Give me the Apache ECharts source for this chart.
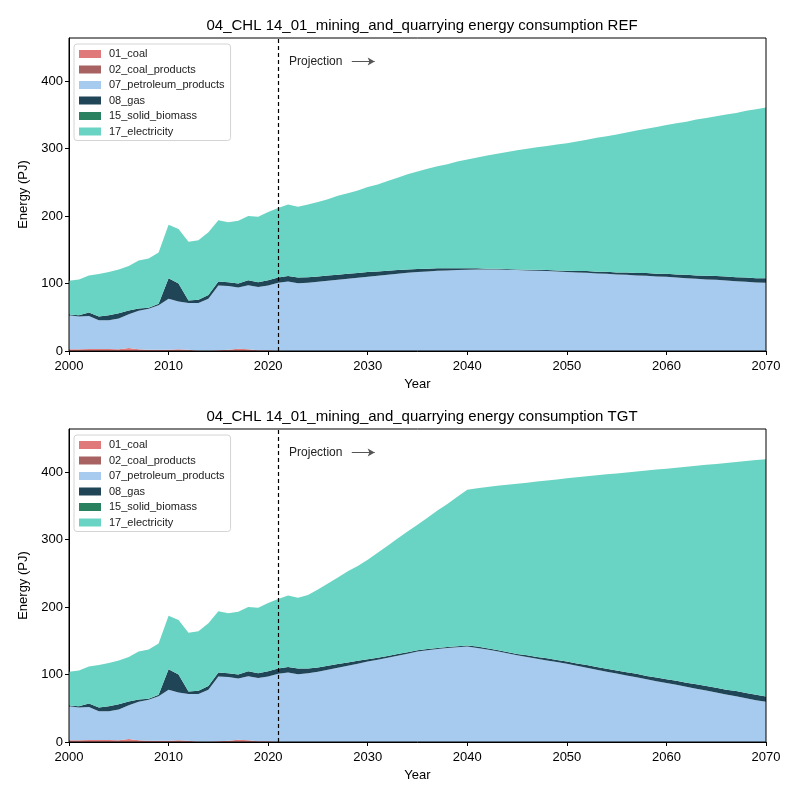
<!DOCTYPE html>
<html>
<head>
<meta charset="utf-8">
<title>04_CHL mining and quarrying energy consumption</title>
<script src="https://cdn.jsdelivr.net/npm/echarts@6/dist/echarts.min.js"></script>
<style>
  html, body { margin: 0; padding: 0; background: #fff; }
  #main { width: 800px; height: 800px; }
</style>
</head>
<body>
<div id="main"></div>
<script>
// years 2000..2070, history 2000-2023 is the same in both scenarios
var years = [];
for (var y = 2000; y <= 2070; y++) years.push(String(y));

var fuels = ['01_coal', '02_coal_products', '07_petroleum_products', '08_gas', '15_solid_biomass', '17_electricity'];
var colors = ['#e07a7a', '#a86262', '#a6cbee', '#1f4557', '#2a8160', '#6ad4c4'];

// history 2000-2023
var coalHist = [2.5, 2.5, 3, 3, 3, 2.5, 4.5, 2.5, 2, 2, 2, 2.5, 2, 0.5, 0.5, 1, 2, 3.5, 2.5, 1, 1, 0.5, 0, 0];
var petHist = [50.5, 48.5, 49, 42.5, 42.5, 45.5, 50, 57, 60.5, 66, 75.5, 71, 69, 70.5, 77, 96, 94.5, 90.5, 95, 94, 96, 100.5, 103, 100.5];
var gasHist = [1, 2, 5, 5.5, 7.5, 8, 5.5, 3.5, 1.5, 2, 30.5, 26.5, 4, 5, 5.5, 6, 5.5, 6, 7.5, 7, 8, 8, 8, 8.5];
var elecHist = [50, 53, 55, 63, 64, 65, 66, 71, 73, 76, 79, 81, 87, 88, 93, 91, 89, 93, 95, 97, 101, 103, 106, 105];

// REF projection 2024-2070
var petRef = [101, 102.5, 104, 105.5, 107, 108.5, 110, 111.5, 113, 114.5, 116, 117, 118, 119, 119.5, 120, 120.5,
  121, 121, 121, 120.5, 120, 119.5, 119, 118.5, 118, 117, 116.5, 116, 115, 114.5, 113.5, 113, 112, 111.5, 110.5, 110,
  109, 108, 107, 106, 105.5, 104.5, 103.5, 102.5, 101.5, 101];
var gasRef = [8.5, 8, 8, 7.5, 7.5, 7, 7, 6.5, 6, 5.5, 5, 4.5, 4, 3.5, 3, 2.5, 2,
  1.5, 1, 1, 1, 1, 1, 1.5, 1.5, 1.5, 2, 2, 2.5, 2.5, 3, 3, 3.5, 3.5, 4, 4, 4.5,
  4.5, 5, 5, 5.5, 5.5, 6, 6, 6.5, 6.5, 7];
var elecRef = [107.5, 110.5, 113, 117, 119.5, 122.5, 126, 129, 133, 137, 141, 144.5, 148, 151.5, 154.5, 158.5, 161.5,
  164.5, 168, 170.5, 173.5, 176.5, 179.5, 181.5, 184, 186.5, 189, 192, 194.5, 198.5, 201, 204.5, 207.5, 211.5, 214, 217.5, 220.5,
  224, 227, 231, 234, 237, 240, 243.5, 247, 250.5, 253];

// TGT projection 2024-2070
var petTgt = [102, 104, 107, 110, 113, 116, 119.5, 122, 125, 128, 131, 134, 136, 138, 139.5, 140.5, 141.5,
  139.5, 137, 134.5, 131.5, 128.5, 126, 123.5, 121, 118.5, 116, 113, 110, 107, 104, 101.5, 98.5, 96, 93, 90, 87.5,
  84.7, 82, 79, 76.5, 73.5, 70.5, 68, 65, 62, 59.5];
var gasTgt = [7, 6.5, 6, 5.5, 5, 4.5, 3, 3, 2.5, 2.5, 2, 2, 2, 1.5, 1.5, 1.5, 1.5,
  2, 2, 2, 2, 2, 2.5, 2.5, 3, 3, 3.5, 3.5, 4, 4, 4.5, 4.5, 5, 5, 5, 5.5, 5.5,
  6, 6, 6.5, 6.5, 7, 7, 7.5, 7.5, 8, 8];
var elecTgt = [109, 115.5, 122, 128.5, 135, 140.5, 147.5, 155.5, 163.5, 171, 179, 186, 194.5, 203.5, 212, 221.5, 231,
  234.5, 239, 243.5, 248, 252.5, 256, 260, 263.5, 267.5, 271.5, 276, 280, 284.5, 288.5, 292, 296, 300, 304.5, 308.5, 312,
  315.8, 320, 324, 328, 331.5, 336, 339.5, 344, 348, 351.5];

// no coal in the projection years
var coalAll = coalHist.concat(years.slice(coalHist.length).map(function () { return 0; }));

var projectionYear = 2021;
var titles = ['04_CHL 14_01_mining_and_quarrying energy consumption REF',
              '04_CHL 14_01_mining_and_quarrying energy consumption TGT'];

var FONT = 'Liberation Sans, Arial, sans-serif';
var chart = echarts.init(document.getElementById('main'));

var grids = [], xAxes = [], yAxes = [], series = [], legends = [], titleOpts = [];
var scen = [
  { pet: petHist.concat(petRef), gas: gasHist.concat(gasRef), elec: elecHist.concat(elecRef), top: 38 },
  { pet: petHist.concat(petTgt), gas: gasHist.concat(gasTgt), elec: elecHist.concat(elecTgt), top: 429 }
];

scen.forEach(function (s, k) {
  grids.push({ left: 69, right: 34, top: s.top, height: 313, show: true, z: 10,
    borderColor: '#000', borderWidth: 1, backgroundColor: 'transparent' });
  titleOpts.push({ text: titles[k], left: 417, top: s.top - 25, textAlign: 'center',
    textStyle: { fontFamily: FONT, fontSize: 15, fontWeight: 'normal', color: '#000' } });
  // category axis for the stacked areas
  xAxes.push({ type: 'category', gridIndex: k, data: years, boundaryGap: false,
    name: 'Year', nameLocation: 'middle', nameGap: 27,
    nameTextStyle: { fontFamily: FONT, fontSize: 13, color: '#000' },
    axisLine: { lineStyle: { color: '#000', width: 1 } },
    axisTick: { length: 4, interval: 9, lineStyle: { color: '#000' } },
    axisLabel: { fontFamily: FONT, fontSize: 13, color: '#000', margin: 9, interval: 9 },
    splitLine: { show: false } });
  // hidden value axis for the annotations
  xAxes.push({ type: 'value', gridIndex: k, min: 2000, max: 2070, show: false });
  yAxes.push({ type: 'value', gridIndex: k, min: 0, max: 464, interval: 100,
    name: 'Energy (PJ)', nameLocation: 'middle', nameGap: 38,
    nameTextStyle: { fontFamily: FONT, fontSize: 13, color: '#000' },
    axisLine: { show: true, lineStyle: { color: '#000', width: 1 } },
    axisTick: { show: true, length: 4, lineStyle: { color: '#000' },
      customValues: [0, 100, 200, 300, 400] },
    axisLabel: { fontFamily: FONT, fontSize: 13, color: '#000', margin: 6,
      customValues: [0, 100, 200, 300, 400] },
    splitLine: { show: false } });

  var dataSets = [coalAll, [], s.pet, s.gas, [], s.elec];
  fuels.forEach(function (name, i) {
    series.push({ name: name, type: 'line', xAxisIndex: 2 * k, yAxisIndex: k, stack: 'total' + k,
      data: dataSets[i], symbol: 'none', showSymbol: false, silent: true,
      lineStyle: { width: 0 }, areaStyle: { color: colors[i], opacity: 1 },
      itemStyle: { color: colors[i] }, emphasis: { disabled: true } });
  });
  // markers: projection line and label
  series.push({ name: 'marks' + k, type: 'line', xAxisIndex: 2 * k + 1, yAxisIndex: k, data: [], silent: true,
    markLine: { silent: true, symbol: 'none', animation: false,
      label: { show: false },
      data: [
        { xAxis: projectionYear, lineStyle: { type: [4, 3], color: '#000', width: 1.2 } },
        [{ coord: [2028.4, 429], lineStyle: { type: 'solid', color: '#555', width: 1 }, symbol: 'none' },
         { coord: [2030.7, 429], symbol: 'arrow', symbolSize: [6, 7] }]
      ] },
    markPoint: { silent: true, animation: false, symbol: 'circle', symbolSize: 0,
      data: [{ coord: [2022.1, 429], value: 'Projection' }],
      label: { show: true, position: 'right', distance: 0, formatter: 'Projection',
        fontFamily: FONT, fontSize: 12, color: '#222' } }
  });
  legends.push({ data: fuels, orient: 'vertical', left: 74, top: s.top + 6,
    icon: 'rect', itemWidth: 22, itemHeight: 8, itemGap: 3.5, selectedMode: false,
    padding: [4, 6, 3, 5], backgroundColor: 'rgba(255,255,255,0.85)',
    borderColor: '#d4d4d4', borderWidth: 1, borderRadius: 3,
    textStyle: { fontFamily: FONT, fontSize: 11, color: '#222', lineHeight: 12, padding: [0, 0, 0, 3] } });
});

chart.setOption({
  animation: false,
  backgroundColor: '#fff',
  title: titleOpts,
  legend: legends,
  grid: grids,
  xAxis: xAxes,
  yAxis: yAxes,
  series: series
});
</script>
</body>
</html>
